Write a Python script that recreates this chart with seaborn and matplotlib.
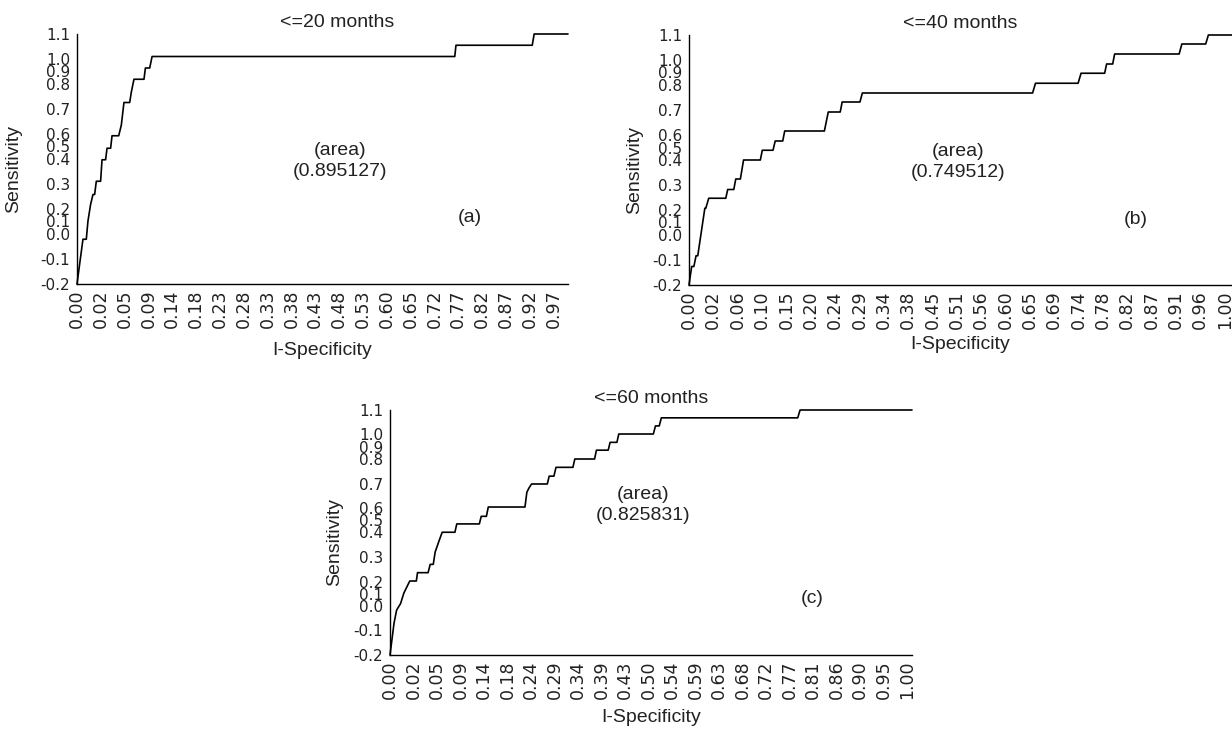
import matplotlib
matplotlib.use("Agg")
import matplotlib.pyplot as plt
import seaborn as sns

# ---------------- data ----------------
titles = ["<=20 months", "<=40 months", "<=60 months"]
areas = ["0.895127", "0.749512", "0.825831"]
tags = ["(a)", "(b)", "(c)"]

xlabels_a = ["0.00", "0.02", "0.05", "0.09", "0.14", "0.18", "0.23", "0.28", "0.33", "0.38", "0.43",
             "0.48", "0.53", "0.60", "0.65", "0.72", "0.77", "0.82", "0.87", "0.92", "0.97"]
xlabels_b = ["0.00", "0.02", "0.06", "0.10", "0.15", "0.20", "0.24", "0.29", "0.34", "0.38", "0.45", "0.51",
             "0.56", "0.60", "0.65", "0.69", "0.74", "0.78", "0.82", "0.87", "0.91", "0.96", "1.00"]
xlabels_c = ["0.00", "0.02", "0.05", "0.09", "0.14", "0.18", "0.24", "0.29", "0.34", "0.39", "0.43", "0.50",
             "0.54", "0.59", "0.63", "0.68", "0.72", "0.77", "0.81", "0.86", "0.90", "0.95", "1.00"]
ylabels = ["-0.2", "-0.1", "0.0", "0.1", "0.2", "0.3", "0.4", "0.5", "0.6", "0.7", "0.8", "0.9", "1.0", "1.1"]

# curve vertices: position along the category axis / sensitivity (0..1 axis)
a_pos = [0, 0.11, 0.25, 0.39, 0.46, 0.57, 0.67, 0.74, 0.81, 0.99, 1.05, 1.20, 1.26, 1.41, 1.47, 1.75,
         1.86, 1.97, 2.21, 2.28, 2.39, 2.81, 2.87, 3.05, 3.15, 15.85, 15.90, 19.10, 19.18, 20.6]
a_sens = [0, 0.079, 0.179, 0.179, 0.252, 0.318, 0.358, 0.358, 0.411, 0.411, 0.497, 0.497, 0.543, 0.543,
          0.593, 0.593, 0.636, 0.726, 0.726, 0.768, 0.819, 0.819, 0.864, 0.864, 0.91, 0.91, 0.955, 0.955,
          1.0, 1.0]

b_pos = [0, 0.11, 0.20, 0.29, 0.36, 0.65, 0.69, 0.81, 1.51, 1.59, 1.84, 1.92, 2.11, 2.24, 2.93, 3.01,
         3.45, 3.54, 3.85, 3.93, 5.56, 5.72, 6.21, 6.29, 7.02, 7.12, 14.11, 14.23, 15.98, 16.10, 17.07,
         17.15, 17.40, 17.48, 20.13, 20.24, 21.22, 21.33, 22.3]
b_sens = [0, 0.074, 0.074, 0.117, 0.117, 0.307, 0.307, 0.347, 0.347, 0.382, 0.382, 0.424, 0.424, 0.50,
          0.50, 0.539, 0.539, 0.576, 0.576, 0.616, 0.616, 0.692, 0.692, 0.732, 0.732, 0.768, 0.768, 0.807,
          0.807, 0.847, 0.847, 0.884, 0.884, 0.924, 0.924, 0.964, 0.964, 1.0, 1.0]

c_pos = [0, 0.17, 0.28, 0.45, 0.59, 0.84, 1.12, 1.17, 1.62, 1.71, 1.84, 1.92, 2.09, 2.22, 2.76, 2.84,
         3.80, 3.88, 4.10, 4.18, 5.74, 5.82, 5.90, 6.02, 6.69, 6.77, 6.97, 7.06, 7.78, 7.86, 8.70, 8.78,
         9.28, 9.36, 9.65, 9.73, 11.20, 11.29, 11.45, 11.54, 17.34, 17.44, 22.2]
c_sens = [0, 0.129, 0.183, 0.21, 0.253, 0.302, 0.302, 0.336, 0.336, 0.37, 0.37, 0.42, 0.467, 0.501,
          0.501, 0.535, 0.535, 0.566, 0.566, 0.604, 0.604, 0.664, 0.68, 0.698, 0.698, 0.73, 0.73, 0.766,
          0.766, 0.80, 0.80, 0.836, 0.836, 0.868, 0.868, 0.902, 0.902, 0.935, 0.935, 0.968, 0.968, 1.0, 1.0]

# ---------------- layout ----------------
sns.set_theme(style="white")
plt.rcParams["font.family"] = ["Liberation Sans", "DejaVu Sans"]

W, H = 1232, 729
fig = plt.figure(figsize=(W / 100, H / 100), dpi=100)

def box(x0, x1, ytop, ybot):
    return [x0 / W, 1 - ybot / H, (x1 - x0) / W, (ybot - ytop) / H]

panels = [
    dict(rect=box(77, 568, 34, 284), xlabels=xlabels_a, pos=a_pos, sens=a_sens, xmax=20.6,
         area_xy=(0.535, 0.535), tag_xy=(0.80, 0.265), title_x=0.53, ylab_x=-0.112, xpad=10),
    dict(rect=box(689, 1232, 35, 285), xlabels=xlabels_b, pos=b_pos, sens=b_sens, xmax=22.3,
         area_xy=(0.495, 0.535), tag_xy=(0.823, 0.26), title_x=0.5, ylab_x=-0.085, xpad=5),
    dict(rect=box(390, 912, 410, 655), xlabels=xlabels_c, pos=c_pos, sens=c_sens, xmax=22.2,
         area_xy=(0.485, 0.655), tag_xy=(0.808, 0.23), title_x=0.5, ylab_x=-0.09, xpad=7),
]
ytick_pos = [0, 0.1, 0.2, 0.25, 0.3, 0.4, 0.5, 0.55, 0.6, 0.7, 0.8, 0.85, 0.9, 1.0]

for i, p in enumerate(panels):
    ax = fig.add_axes(p["rect"])
    sns.lineplot(x=p["pos"], y=p["sens"], ax=ax, color="black", linewidth=1.2,
                 sort=False, estimator=None, clip_on=False)
    ax.set_xlim(0, p["xmax"])
    ax.set_ylim(0, 1.0)
    ax.set_facecolor("white")
    for s in ["top", "right"]:
        ax.spines[s].set_visible(False)
    for s in ["left", "bottom"]:
        ax.spines[s].set_color("black")
        ax.spines[s].set_linewidth(1.0)

    ax.set_xticks(range(len(p["xlabels"])))
    ax.set_xticklabels(p["xlabels"], rotation=90, fontsize=12.5, family="DejaVu Sans", color="#222222")
    ax.set_yticks(ytick_pos)
    ax.set_yticklabels(ylabels, fontsize=11, family="DejaVu Sans", color="#222222")
    ax.set_yticks([k / 10 for k in range(11)], minor=True)
    ax.tick_params(axis="x", which="major", length=0, pad=4)
    ax.tick_params(axis="y", which="major", length=0, pad=5)
    ax.tick_params(axis="y", which="minor", left=True, length=3, width=0.8, color="black")

    ax.set_title(titles[i], fontsize=14, pad=5, x=p["title_x"], color="#222222")
    ax.set_xlabel("I-Specificity", fontsize=14, labelpad=p["xpad"], color="#222222")
    ax.set_ylabel("Sensitivity", fontsize=14, color="#222222")
    ax.yaxis.set_label_coords(p["ylab_x"], 0.46)

    ax.text(p["area_xy"][0], p["area_xy"][1], "(area)", transform=ax.transAxes,
            ha="center", va="center", fontsize=14, color="#222222")
    ax.text(p["area_xy"][0], p["area_xy"][1] - 0.085, "(" + areas[i] + ")", transform=ax.transAxes,
            ha="center", va="center", fontsize=14, color="#222222")
    ax.text(p["tag_xy"][0], p["tag_xy"][1], tags[i], transform=ax.transAxes,
            ha="center", va="center", fontsize=14, color="#222222")

fig.savefig("out.png", dpi=100, facecolor="white")
